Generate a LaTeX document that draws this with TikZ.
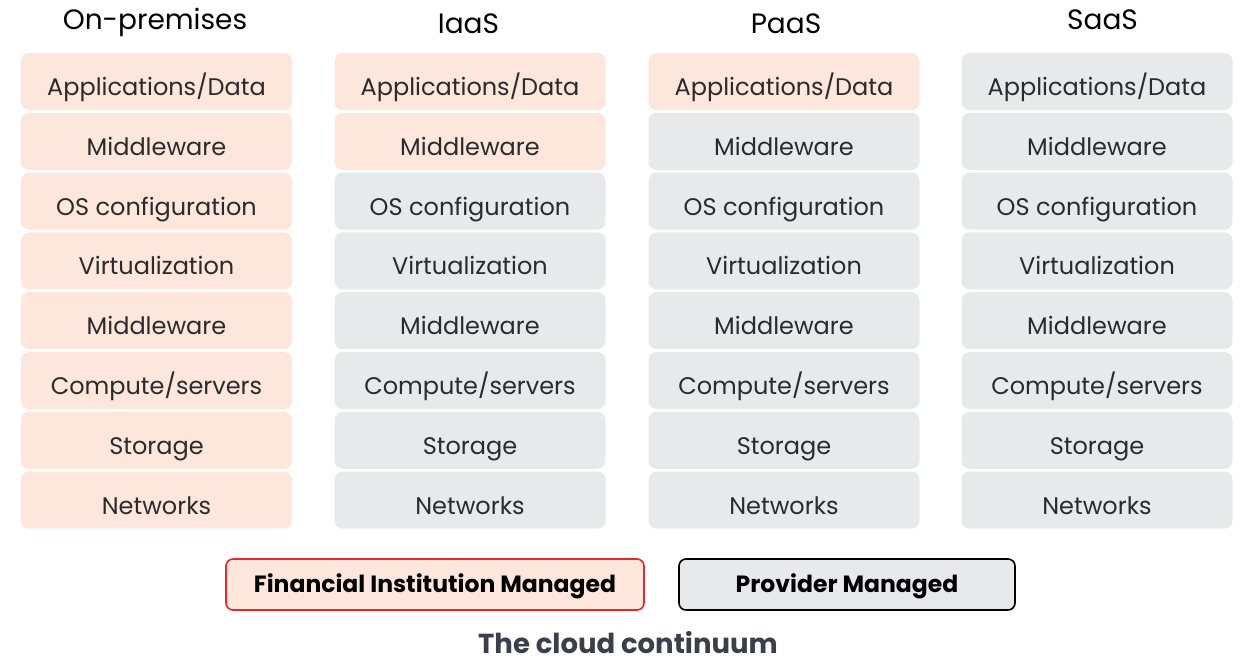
\documentclass[tikz,border=0pt]{standalone}
\usepackage{fontspec}
\setmainfont{Poppins}
\definecolor{peach}{HTML}{FDE6DB}
\definecolor{pgray}{HTML}{E8E9EB}
\definecolor{txt}{HTML}{2B2B2B}
\definecolor{redb}{HTML}{E8262B}
\definecolor{ttl}{HTML}{3A3F4B}
\begin{document}
\begin{tikzpicture}[x=1pt,y=1pt,
  layer/.style={rounded corners=8pt,minimum width=271pt,minimum height=57pt,inner sep=0pt,text=txt,
    text height=28pt,text depth=0pt,font=\fontsize{24}{28}\selectfont},
  fim/.style={layer,fill=peach},
  prov/.style={layer,fill=pgray},
  head/.style={anchor=base,font=\fontsize{28}{32}\selectfont,text=black},
  legend/.style={rounded corners=7pt,line width=1.6pt,minimum height=51pt,inner sep=0pt,
    text height=16.5pt,text depth=0pt,font=\bfseries\fontsize{23.5}{28}\selectfont}]
\useasboundingbox (0,0) rectangle (1243,-662);
\def\labels{{"Applications/Data","Middleware","OS configuration","Virtualization","Middleware","Compute/servers","Storage","Networks"}}
\foreach \c/\cx/\n/\h/\hx/\hy in {0/156.5/2/On-premises/155/29, 1/470/2/IaaS/468.5/33, 2/784/1/PaaS/786/33, 3/1097/0/SaaS/1102.5/29}{
  \node[head] (h\c) at (\hx,-\hy) {\h};
  \foreach \r in {0,...,7}{
    \pgfmathsetmacro{\yy}{-81.5-59.8*\r}
    \pgfmathparse{\labels[\r]}\let\lab\pgfmathresult
    \ifnum\c=0 \def\st{fim}\else
      \ifnum\r<\n \def\st{fim}\else\def\st{prov}\fi
    \fi
    \node[\st] (b\c\r) at (\cx,\yy) {\lab};
  }
}
\node[legend,draw=redb,fill=peach,minimum width=418pt] (lf) at (435,-584.5) {Financial Institution Managed};
\node[legend,draw=black,fill=pgray,minimum width=336pt] (lp) at (847,-584.5) {Provider Managed};
\node[anchor=base,inner sep=0pt,font=\bfseries\fontsize{27.5}{32}\selectfont,text=ttl] (title) at (628,-653) {The cloud continuum};
\end{tikzpicture}
\end{document}
